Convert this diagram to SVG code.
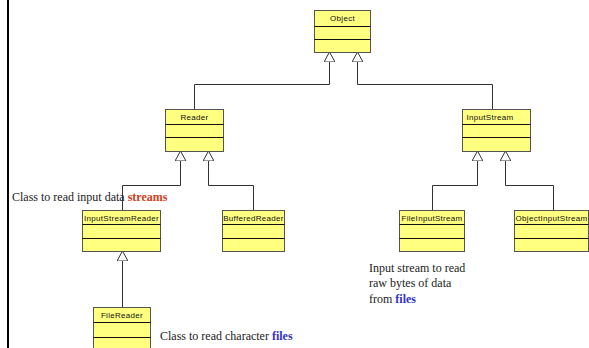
<svg xmlns="http://www.w3.org/2000/svg" width="589" height="348" viewBox="0 0 589 348">
  <defs>
    <style>
      .box { fill: #ffff80; stroke: #555; stroke-width: 1; }
      .sep { stroke: #111; stroke-width: 1; }
      .lbl { font-family: "Liberation Sans", Arial, sans-serif; font-size: 8px; letter-spacing: 0.3px; fill: #111; }
      .note { font-family: "Liberation Serif", "Times New Roman", serif; font-size: 12px; fill: #222; }
      .red { fill: #d0401a; font-weight: bold; }
      .blue { fill: #3333cc; font-weight: bold; }
      .edge { fill: none; stroke: #333; stroke-width: 1; marker-start: url(#inherit); }
    </style>
    <!-- hollow generalization arrowhead, tip at the parent class -->
    <marker id="inherit" viewBox="0 0 10 11" refX="10" refY="5.5" markerWidth="10" markerHeight="11" markerUnits="userSpaceOnUse" orient="auto-start-reverse">
      <path d="M10,5.5 L0,0 L0,11 Z" fill="#fff" stroke="#333" stroke-width="1"/>
    </marker>
  </defs>

  <rect width="589" height="348" fill="#fff"/>
  <!-- margin rule -->
  <rect x="7" y="0" width="2" height="348" fill="#000"/>

  <g id="connectors">
    <path class="edge" d="M329.5,52 V84.5 H194.5 V109"/>
    <path class="edge" d="M357.5,52 V84.5 H492.5 V109"/>
    <path class="edge" d="M180.5,151 V185.5 H122.5 V210"/>
    <path class="edge" d="M208.5,151 V185.5 H253.5 V210"/>
    <path class="edge" d="M477.5,151 V185.5 H432.5 V210"/>
    <path class="edge" d="M505.5,151 V185.5 H553.5 V210"/>
    <path class="edge" d="M122.5,251 V307"/>
  </g>

  <g id="Object">
    <rect class="box" x="314.5" y="10.5" width="56" height="42"/>
    <line class="sep" x1="314.5" y1="26.5" x2="370.5" y2="26.5"/>
    <line class="sep" x1="314.5" y1="39.5" x2="370.5" y2="39.5"/>
    <text class="lbl" x="342.5" y="21" text-anchor="middle">Object</text>
  </g>

  <g id="Reader">
    <rect class="box" x="165.5" y="109.5" width="58" height="42"/>
    <line class="sep" x1="165.5" y1="124.5" x2="223.5" y2="124.5"/>
    <line class="sep" x1="165.5" y1="137.5" x2="223.5" y2="137.5"/>
    <text class="lbl" x="194.5" y="120" text-anchor="middle">Reader</text>
  </g>

  <g id="InputStream">
    <rect class="box" x="462.5" y="109.5" width="68" height="42"/>
    <line class="sep" x1="462.5" y1="124.5" x2="530.5" y2="124.5"/>
    <line class="sep" x1="462.5" y1="137.5" x2="530.5" y2="137.5"/>
    <text class="lbl" x="490" y="120" text-anchor="middle">InputStream</text>
  </g>

  <g id="InputStreamReader">
    <rect class="box" x="82.5" y="210.5" width="78" height="41"/>
    <line class="sep" x1="82.5" y1="224.5" x2="160.5" y2="224.5"/>
    <line class="sep" x1="82.5" y1="238.5" x2="160.5" y2="238.5"/>
    <text class="lbl" x="121.5" y="220.5" text-anchor="middle">InputStreamReader</text>
  </g>

  <g id="BufferedReader">
    <rect class="box" x="222.5" y="210.5" width="62" height="41"/>
    <line class="sep" x1="222.5" y1="224.5" x2="284.5" y2="224.5"/>
    <line class="sep" x1="222.5" y1="238.5" x2="284.5" y2="238.5"/>
    <text class="lbl" x="253.5" y="220.5" text-anchor="middle">BufferedReader</text>
  </g>

  <g id="FileInputStream">
    <rect class="box" x="399.5" y="210.5" width="65" height="41"/>
    <line class="sep" x1="399.5" y1="224.5" x2="464.5" y2="224.5"/>
    <line class="sep" x1="399.5" y1="238.5" x2="464.5" y2="238.5"/>
    <text class="lbl" x="432" y="220.5" text-anchor="middle">FileInputStream</text>
  </g>

  <g id="ObjectInputStream">
    <rect class="box" x="514.5" y="210.5" width="74" height="41"/>
    <line class="sep" x1="514.5" y1="224.5" x2="588.5" y2="224.5"/>
    <line class="sep" x1="514.5" y1="238.5" x2="588.5" y2="238.5"/>
    <text class="lbl" x="551.5" y="220.5" text-anchor="middle">ObjectInputStream</text>
  </g>

  <g id="FileReader">
    <rect class="box" x="93.5" y="307.5" width="57" height="45"/>
    <line class="sep" x1="93.5" y1="322.5" x2="150.5" y2="322.5"/>
    <line class="sep" x1="93.5" y1="337.5" x2="150.5" y2="337.5"/>
    <text class="lbl" x="122" y="318" text-anchor="middle">FileReader</text>
  </g>

  <g id="notes">
    <text class="note" x="12" y="201">Class to read input data <tspan class="red">streams</tspan></text>
    <text class="note" x="160" y="340">Class to read character <tspan class="blue">files</tspan></text>
    <text class="note" x="369" y="272">Input stream to read</text>
    <text class="note" x="369" y="287">raw bytes of data</text>
    <text class="note" x="369" y="303">from <tspan class="blue">files</tspan></text>
  </g>
</svg>
